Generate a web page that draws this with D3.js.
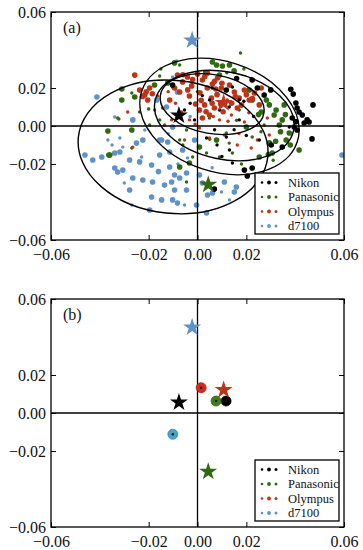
<!DOCTYPE html>
<html>
<head>
<meta charset="utf-8">
<script src="https://cdn.jsdelivr.net/npm/d3@7"></script>
<style>
  body { margin: 0; background: #fff; }
  svg text { font-family: "Liberation Serif", "Times New Roman", "DejaVu Serif", serif; }
</style>
</head>
<body>
<svg id="chart" width="363" height="550"></svg>
<script>
// axis ticks (same for x and y)
const tickValues = [-0.06, -0.02, 0, 0.02, 0.06];
const tickLabels = ['\u22120.06', '\u22120.02', '0.00', '0.02', '0.06'];

const cameras = ['Nikon', 'Panasonic', 'Olympus', 'd7100'];
const colors = ['#000000', '#2f6a10', '#bd3418', '#5f92c8'];
const meanColors = ['#000000', '#3f7d1c', '#d42a1e', '#47a6c6'];

// scatter samples per camera: [x, y, size(1 small / 2 large)]
const nikonPts = [
  [0.0382,0.0193,2],[0.0392,0.0168,2],[0.0473,0.0111,2],[0.0403,0.0121,2],[0.0408,0.0095,2],
  [0.0416,0.0074,2],[0.0429,0.0058,2],[0.0449,0.0032,2],[0.0437,0.0016,2],[0.0403,0.0023,2],
  [0.0388,0.0042,2],[0.0396,-0.0005,2],[0.0408,-0.0021,2],[0.0376,-0.0005,1],[0.0469,-0.0068,2],
  [0.0457,0.0021,2],[0.0143,-0.0195,1],[0.0192,-0.0232,2],[0.0224,-0.0221,2],[0.0204,-0.0263,2],
  [0.0245,-0.0263,2],[0.0069,-0.0332,2],[0.0049,0.0137,1],[0.0118,0.0189,2],[0.0224,0.0242,2],
  [0.0245,0.0200,2],[0.0143,0.0205,1],[0.0037,-0.0063,1],[0.0118,-0.0058,1],[-0.0102,0.0216,2],
  [0.0171,0.0137,1],[0.0090,0.0084,1],[-0.0053,0.0084,1],[0.0253,-0.0074,1],[0.0302,-0.0100,2],
  [0.0347,-0.0111,2],[0.0131,-0.0126,1],[-0.0012,0.0032,1],[0.0171,0.0032,1],[0.0273,0.0163,2],
  [0.0160,0.0250,2],[0.0300,0.0190,2],[0.0080,-0.0100,1],[0.0200,-0.0050,1],[0.0060,0.0200,1],
  [0.0130,0.0100,1],[0.0190,0.0130,1],[0.0070,-0.0020,1],[0.0150,-0.0020,1],[0.0230,0.0050,1],
  [0.0020,0.0160,1],[-0.0030,0.0120,1],[0.0100,-0.0160,1]
];
const panasonicPts = [
  [0.0061,0.0337,2],[0.0078,0.0321,2],[0.0102,0.0316,2],[0.0131,0.0321,2],[0.0176,0.0384,1],
  [0.0029,0.0284,1],[0.0090,0.0268,2],[-0.0094,0.0332,2],[-0.0073,0.0321,1],[-0.0155,0.0263,1],
  [-0.0122,0.0226,2],[-0.0102,0.0205,1],[-0.0310,0.0195,2],[-0.0310,0.0137,2],[-0.0322,0.0037,1],
  [-0.0367,-0.0026,2],[-0.0269,0.0174,1],[-0.0269,-0.0021,2],[-0.0359,-0.0153,2],[-0.0327,0.0042,1],
  [-0.0257,0.0153,2],[-0.0155,0.0032,1],[-0.0045,-0.0021,1],[-0.0033,-0.0195,2],[-0.0045,-0.0295,1],
  [0.0282,0.0137,2],[0.0322,0.0084,2],[0.0347,0.0032,2],[0.0376,-0.0037,2],[0.0363,-0.0074,2],
  [0.0416,-0.0126,2],[0.0306,-0.0142,2],[0.0253,-0.0163,2],[0.0143,-0.0142,1],[0.0200,-0.0005,2],
  [0.0224,-0.0058,1],[0.0294,-0.0089,2],[0.0224,0.0137,2],[0.0171,0.0084,1],[0.0118,-0.0037,1],
  [0.0078,-0.0074,2],[0.0037,-0.0142,1],[0.0090,-0.0163,1],[0.0008,-0.0111,2],[-0.0020,-0.0163,1],
  [-0.0073,-0.0074,1],[-0.0073,-0.0216,2],[-0.0363,-0.0153,2],[-0.0269,-0.0116,1],[0.0294,0.0111,2],
  [0.0314,0.0058,2],[0.0335,0.0005,2],[0.0355,0.0111,2],[0.0261,0.0074,2],[0.0273,0.0005,1],
  [-0.0237,0.0074,1],[-0.0196,0.0005,1],[-0.0176,0.0216,2],[0.0212,0.0189,2],[0.0049,0.0042,1],
  [0.0340,-0.0030,2],[0.0290,-0.0150,2],[0.0250,0.0060,2],[0.0320,-0.0080,2],[0.0150,0.0290,2],
  [0.0120,0.0280,1],[0.0190,0.0300,1],[0.0220,0.0250,1],[-0.0150,0.0300,1],[-0.0200,0.0090,1],
  [0.0050,-0.0070,1],[0.0130,-0.0090,1],[0.0260,-0.0030,1],[0.0360,0.0060,2],[0.0380,-0.0100,2],
  [0.0310,-0.0180,1],[0.0180,-0.0200,1],[-0.0060,-0.0100,1],[0.0000,0.0180,1],[0.0160,0.0030,1]
];
const olympusPts = [
  [-0.0257,0.0268,2],[-0.0237,0.0189,2],[-0.0216,0.0163,2],[-0.0196,0.0200,2],[-0.0204,0.0137,2],
  [-0.0163,0.0158,1],[-0.0143,0.0095,1],[-0.0114,0.0137,2],[-0.0082,0.0268,2],[-0.0061,0.0232,2],
  [-0.0041,0.0258,2],[-0.0024,0.0211,2],[0.0000,0.0274,2],[0.0020,0.0242,2],[0.0041,0.0279,2],
  [0.0061,0.0221,2],[0.0082,0.0253,2],[0.0098,0.0200,2],[-0.0073,0.0179,2],[-0.0008,0.0116,2],
  [0.0008,0.0084,2],[0.0029,0.0111,2],[0.0049,0.0058,2],[0.0069,0.0095,2],[0.0090,0.0032,1],
  [0.0020,0.0042,2],[0.0057,0.0147,2],[0.0151,0.0179,2],[0.0171,0.0147,2],[0.0192,0.0189,2],
  [0.0212,0.0137,2],[0.0233,0.0174,2],[0.0253,0.0111,2],[0.0163,0.0095,2],[0.0122,0.0137,1],
  [0.0139,0.0058,1],[0.0192,0.0021,1],[-0.0033,0.0032,1],[-0.0065,0.0074,1],[-0.0106,0.0032,1],
  [-0.0135,0.0005,1],[0.0110,-0.0047,1],[0.0163,-0.0100,1],[0.0220,-0.0116,1],[0.0049,-0.0063,1],
  [0.0008,-0.0011,1],[0.0286,0.0042,1],[0.0261,0.0200,2],[-0.0176,0.0084,1],[-0.0286,0.0074,1],
  [0.0131,0.0216,2],[-0.0033,0.0158,2],[-0.0094,0.0200,2],[0.0245,-0.0074,1],[0.0294,-0.0047,1],
  [-0.0053,-0.0074,1],[-0.0265,-0.0111,1],
  [-0.0060,0.0270,2],[-0.0020,0.0245,2],[0.0030,0.0260,2],[0.0070,0.0235,2],[0.0100,0.0225,2],
  [-0.0040,0.0190,2],[0.0010,0.0175,2],[0.0040,0.0200,2],[0.0080,0.0165,2],[0.0015,0.0135,2],
  [0.0060,0.0120,2],[0.0095,0.0115,2],[0.0035,0.0075,2],[0.0065,0.0050,1],[0.0105,0.0075,2],
  [0.0140,0.0120,2],[0.0180,0.0110,2],[0.0200,0.0165,2],[0.0225,0.0145,2],[0.0155,0.0155,2],
  [-0.0210,0.0180,2],[-0.0225,0.0155,2],[-0.0185,0.0170,2],[-0.0120,0.0180,1],[-0.0090,0.0120,1],
  [0.0125,0.0025,1],[0.0170,-0.0040,1],[0.0210,0.0070,1],[-0.0010,0.0010,1],[0.0075,0.0195,2]
];
const d7100Pts = [
  [-0.0461,-0.0153,2],[-0.0392,-0.0163,2],[-0.0339,-0.0142,2],[-0.0318,-0.0137,2],[-0.0306,-0.0111,1],
  [-0.0318,-0.0063,1],[-0.0339,-0.0221,2],[-0.0327,-0.0242,2],[-0.0306,-0.0232,2],[-0.0278,-0.0179,2],
  [-0.0237,-0.0189,2],[-0.0229,-0.0163,1],[-0.0188,-0.0205,2],[-0.0265,-0.0274,2],[-0.0224,-0.0284,2],
  [-0.0184,-0.0295,2],[-0.0278,-0.0337,2],[-0.0188,-0.0374,2],[-0.0269,-0.0416,1],[-0.0196,-0.0442,2],
  [-0.0147,-0.0074,2],[-0.0122,-0.0084,2],[-0.0155,-0.0153,2],[-0.0114,-0.0216,2],[-0.0094,-0.0258,2],
  [-0.0073,-0.0274,2],[-0.0045,-0.0247,2],[-0.0106,-0.0295,2],[-0.0135,-0.0311,2],[-0.0094,-0.0337,2],
  [-0.0045,-0.0337,2],[-0.0147,-0.0389,2],[-0.0082,-0.0405,2],[-0.0053,-0.0416,1],[-0.0004,-0.0416,2],
  [0.0041,-0.0363,2],[0.0061,-0.0353,2],[0.0098,-0.0347,1],[0.0151,-0.0347,2],[0.0110,-0.0295,2],
  [-0.0114,-0.0137,2],[-0.0041,-0.0168,1],[-0.0061,-0.0126,2],[-0.0167,0.0137,2],[-0.0102,0.0258,1],
  [-0.0082,0.0179,2],[-0.0127,0.0100,2],[-0.0155,-0.0074,2],[-0.0224,-0.0074,2],[-0.0102,-0.0005,2],
  [-0.0412,0.0153,2],[-0.0339,0.0047,1],[-0.0265,0.0032,2],[0.0592,-0.0153,2],[0.0037,-0.0458,2],
  [-0.0102,-0.0389,2],[0.0159,-0.0321,2],[0.0131,-0.0389,1],[-0.0216,-0.0021,1],[-0.0012,-0.0074,2],
  [0.0008,-0.0258,2],[-0.0367,-0.0074,1],[-0.0429,-0.0179,2],[-0.0086,0.0342,1],
  [-0.0200,0.0090,1],[-0.0250,-0.0090,2],[-0.0120,-0.0040,1],[-0.0300,-0.0300,1],[-0.0160,-0.0240,2],
  [-0.0080,-0.0200,1],[0.0020,-0.0300,2],[-0.0350,-0.0100,1],[-0.0030,0.0050,1],[0.0060,-0.0220,1]
];
const scatterSets = [d7100Pts, panasonicPts, olympusPts, nikonPts];
const scatterColorIdx = [3, 1, 2, 0];

// covariance ellipses: [cx, cy, rx, ry, rotation in degrees]
const ellipseNikon = [0.011, 0.0055, 0.029, 0.023, 12];
const ellipsePanasonic = [0.009, 0.005, 0.0335, 0.029, 18];
const ellipseOlympus = [0.006, 0.0115, 0.0215, 0.0155, 10];
const ellipseD7100 = [-0.010, -0.011, 0.039, 0.035, 6];
const ellipseList = [ellipseNikon, ellipsePanasonic, ellipseOlympus, ellipseD7100];

// stars and mean markers per camera (Nikon, Panasonic, Olympus, d7100)
const starPts = [[-0.0076, 0.0056], [0.0044, -0.0309], [0.0107, 0.0121], [-0.0022, 0.0451]];
const meanPts = [[0.0117, 0.0063], [0.0076, 0.0063], [0.0015, 0.0133], [-0.0101, -0.0112]];

const serif = '"Liberation Serif", "Times New Roman", "DejaVu Serif", serif';
const svg = d3.select('#chart');
const margin = { left: 51, right: 19 };
const plotW = 363 - margin.left - margin.right;
const plotH = 228;

function drawPanel(top, label, withScatter) {
  const x = d3.scaleLinear().domain([-0.06, 0.06]).range([margin.left, margin.left + plotW]);
  const y = d3.scaleLinear().domain([-0.06, 0.06]).range([top + plotH, top]);

  const g = svg.append('g');
  const clipId = 'clip' + label.replace(/\W/g, '');
  g.append('clipPath').attr('id', clipId)
    .append('rect').attr('x', x(-0.06)).attr('y', y(0.06)).attr('width', plotW).attr('height', plotH);
  const plot = g.append('g').attr('clip-path', `url(#${clipId})`);

  if (withScatter) {
    scatterSets.forEach((pts, i) => {
      plot.selectAll(null).data(pts).enter().append('circle')
        .attr('cx', d => x(d[0]))
        .attr('cy', d => y(d[1]))
        .attr('r', d => d[2] === 2 ? 2.8 : 1.7)
        .attr('fill', colors[scatterColorIdx[i]]);
    });
    ellipseList.forEach(e => {
      const cx = x(e[0]), cy = y(e[1]);
      plot.append('ellipse')
        .attr('cx', cx).attr('cy', cy)
        .attr('rx', x(e[2]) - x(0))
        .attr('ry', y(0) - y(e[3]))
        .attr('transform', `rotate(${e[4]},${cx},${cy})`)
        .attr('fill', 'none')
        .attr('stroke', '#000')
        .attr('stroke-width', 1.4);
    });
  }

  // zero lines
  plot.append('line').attr('x1', x(-0.06)).attr('x2', x(0.06)).attr('y1', y(0)).attr('y2', y(0))
    .attr('stroke', '#000').attr('stroke-width', 1.3);
  plot.append('line').attr('x1', x(0)).attr('x2', x(0)).attr('y1', y(-0.06)).attr('y2', y(0.06))
    .attr('stroke', '#000').attr('stroke-width', 1.3);

  if (!withScatter) {
    meanPts.forEach((p, i) => {
      plot.append('circle').attr('cx', x(p[0])).attr('cy', y(p[1])).attr('r', 5)
        .attr('fill', meanColors[i]).attr('stroke', d3.color(meanColors[i]).darker(0.6)).attr('stroke-width', 0.8);
      plot.append('circle').attr('cx', x(p[0])).attr('cy', y(p[1])).attr('r', 1.2)
        .attr('fill', '#111');
    });
  }

  // stars
  const star = d3.symbol(d3.symbolStar, 100);
  starPts.forEach((p, i) => {
    plot.append('path').attr('d', star())
      .attr('transform', `translate(${x(p[0])},${y(p[1])})`)
      .attr('fill', colors[i]);
  });

  // axes with inward ticks on all sides
  const fmt = (d, i) => tickLabels[i];
  g.append('g').attr('transform', `translate(0,${y(-0.06)})`)
    .call(d3.axisBottom(x).tickValues(tickValues).tickFormat(fmt).tickSizeInner(-5).tickSizeOuter(0).tickPadding(9))
    .call(a => a.select('.domain').remove());
  g.append('g').attr('transform', `translate(0,${y(0.06)})`)
    .call(d3.axisTop(x).tickValues(tickValues).tickFormat('').tickSizeInner(-5).tickSizeOuter(0))
    .call(a => a.select('.domain').remove());
  g.append('g').attr('transform', `translate(${x(-0.06)},0)`)
    .call(d3.axisLeft(y).tickValues(tickValues).tickFormat(fmt).tickSizeInner(-5).tickSizeOuter(0).tickPadding(5))
    .call(a => a.select('.domain').remove());
  g.append('g').attr('transform', `translate(${x(0.06)},0)`)
    .call(d3.axisRight(y).tickValues(tickValues).tickFormat('').tickSizeInner(-5).tickSizeOuter(0))
    .call(a => a.select('.domain').remove());
  g.selectAll('.tick line').attr('stroke', '#000').attr('stroke-width', 1);
  g.selectAll('.tick text').style('font-family', serif).style('font-size', '16px').attr('fill', '#111');

  // frame
  g.append('rect').attr('x', x(-0.06)).attr('y', y(0.06)).attr('width', plotW).attr('height', plotH)
    .attr('fill', 'none').attr('stroke', '#000').attr('stroke-width', 1.3);

  // panel label
  g.append('text').attr('x', x(-0.06) + 12).attr('y', y(0.06) + 21)
    .style('font-family', serif).style('font-size', '16px').attr('fill', '#111').text(label);

  // legend
  const lx = 255, ly = top + 161, lw = 84, lh = 61;
  const leg = g.append('g');
  leg.append('rect').attr('x', lx).attr('y', ly).attr('width', lw).attr('height', lh)
    .attr('fill', '#fff').attr('stroke', '#000').attr('stroke-width', 1.3);
  const dotR = [1.3, 1.9, 1.5];
  cameras.forEach((c, i) => {
    const cy = ly + 9.5 + i * 14.5;
    dotR.forEach((r, k) => {
      leg.append('circle').attr('cx', lx + 7 + k * 7).attr('cy', cy).attr('r', r).attr('fill', colors[i]);
    });
    leg.append('text').attr('x', lx + 33).attr('y', cy + 4)
      .style('font-family', serif).style('font-size', '12.5px').attr('fill', '#111').text(c);
  });
}

drawPanel(12, '(a)', true);
drawPanel(299, '(b)', false);
</script>
</body>
</html>
